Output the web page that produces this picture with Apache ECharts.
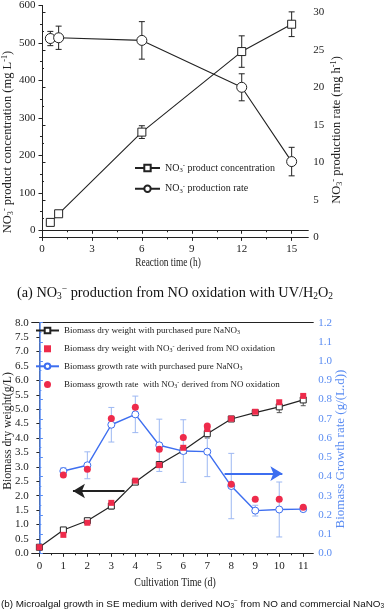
<!DOCTYPE html>
<html><head><meta charset="utf-8">
<script src="https://cdn.jsdelivr.net/npm/echarts@6/dist/echarts.min.js"></script>
<style>html,body{margin:0;padding:0;background:#fff}#c{width:387px;height:610px}</style>
</head><body><div id="c"></div>
<script>
// ---------- Chart (a) data ----------
const timeA = [0.5, 1, 6, 12, 15];
const concA = [21, 44, 262, 477, 550];
const concErrA = [5, 6, 17, 42, 33];
const rateA = [26.5, 26.6, 26.25, 20.0, 10.1];
const rateErrA = [0.95, 1.55, 2.5, 1.8, 1.9];
const xTicksA = [0, 3, 6, 9, 12, 15];
const xMinorA = [1.5, 4.5, 7.5, 10.5, 13.5];
const yTicksA = [0, 100, 200, 300, 400, 500, 600];
const yMinorA = [50, 150, 250, 350, 450, 550];
const y2TicksA = [0, 5, 10, 15, 20, 25, 30];
const y2MinorA = [2.5, 7.5, 12.5, 17.5, 22.5, 27.5];

// ---------- Chart (b) data ----------
const dayB = [0, 1, 2, 3, 4, 5, 6, 7, 8, 9, 10, 11];
const dryPure = [0.21, 0.81, 1.13, 1.64, 2.47, 3.08, 3.57, 4.15, 4.66, 4.88, 5.08, 5.32];
const dryPureErr = [0.03, 0.05, 0.05, 0.1, 0.05, 0.07, 0.04, 0.15, 0.04, 0.05, 0.2, 0.2];
const dryNO = [0.21, 0.64, 1.06, 1.75, 2.52, 3.06, 3.66, 4.31, 4.67, 4.91, 5.24, 5.46];
const rateDays = [1, 2, 3, 4, 5, 6, 7, 8, 9, 10, 11];
const ratePure = [0.428, 0.458, 0.669, 0.723, 0.562, 0.532, 0.529, 0.35, 0.222, 0.228, 0.23];
const ratePureErr = [0.017, 0.07, 0.09, 0.095, 0.136, 0.163, 0.13, 0.17, 0.028, 0.143, 0.01];
const rateNO = [0.407, 0.437, 0.702, 0.76, 0.541, 0.602, 0.662, 0.359, 0.281, 0.281, 0.239];
const xTicksB = [0, 1, 2, 3, 4, 5, 6, 7, 8, 9, 10, 11];
const xMinorB = [0.5, 1.5, 2.5, 3.5, 4.5, 5.5, 6.5, 7.5, 8.5, 9.5, 10.5];

const SERIF = 'Liberation Serif';
const INK = '#222';
const RED = '#ee2b4b';
const BLUE = '#3d6ef0';
const BLUE_LIGHT = '#9db8f2';
const BLUE_AX = '#5a8cf2';
const SQUARE = 'path://M0,0H10V10H0Z';

function richFor(size, fam, color) {
  return {
    sub: {fontSize: size * 0.66, fontFamily: fam, color: color, padding: [size * 0.45, 0, 0, 0]},
    sup: {fontSize: size * 0.66, fontFamily: fam, color: color, padding: [0, 0, size * 0.5, 0]}
  };
}

function errSeries(name, xs, ys, errs, xi, yi, color, capW) {
  return {
    type: 'custom', name: name, xAxisIndex: xi, yAxisIndex: yi, z: 1,
    silent: true, animation: false,
    data: xs.map((x, i) => [x, ys[i] - errs[i], ys[i] + errs[i]]),
    encode: {x: 0, y: [1, 2]},
    renderItem: function (params, api) {
      const lo = api.coord([api.value(0), api.value(1)]);
      const hi = api.coord([api.value(0), api.value(2)]);
      const st = {stroke: color, lineWidth: 1};
      return {type: 'group', children: [
        {type: 'line', shape: {x1: lo[0], y1: lo[1], x2: hi[0], y2: hi[1]}, style: st},
        {type: 'line', shape: {x1: lo[0] - capW, y1: lo[1], x2: lo[0] + capW, y2: lo[1]}, style: st},
        {type: 'line', shape: {x1: hi[0] - capW, y1: hi[1], x2: hi[0] + capW, y2: hi[1]}, style: st}
      ]};
    }
  };
}

function tickAxis(base, vals, len, inside, color) {
  return Object.assign({
    type: 'value', splitLine: {show: false},
    axisLine: {show: false},
    axisTick: {show: true, inside: !!inside, length: len, customValues: vals, lineStyle: {color: color || INK}},
    axisLabel: {show: false}
  }, base);
}

const lblA = {fontFamily: SERIF, fontSize: 11, color: INK};

const xAxes = [
  // chart (a)
  {gridIndex: 0, type: 'value', position: 'bottom', min: -0.15, max: 16,
   splitLine: {show: false},
   axisLine: {lineStyle: {color: INK, width: 1}},
   axisTick: {length: 3.5, customValues: xTicksA, lineStyle: {color: INK}},
   axisLabel: Object.assign({customValues: xTicksA, margin: 5}, lblA)},
  tickAxis({gridIndex: 0, position: 'bottom', min: -0.15, max: 16}, xMinorA, 2, false),
  {gridIndex: 0, type: 'value', position: 'top', min: -0.15, max: 16,
   splitLine: {show: false},
   axisLine: {lineStyle: {color: INK, width: 1}},
   axisTick: {length: 3.5, inside: true, customValues: xTicksA, lineStyle: {color: INK}},
   axisLabel: {show: false}},
  tickAxis({gridIndex: 0, position: 'top', min: -0.15, max: 16}, xMinorA, 2, true),
  // chart (b)
  {gridIndex: 1, type: 'value', position: 'bottom', min: -0.32, max: 11.42,
   splitLine: {show: false},
   axisLine: {lineStyle: {color: INK, width: 1}},
   axisTick: {length: 3.5, customValues: xTicksB, lineStyle: {color: INK}},
   axisLabel: Object.assign({customValues: xTicksB, margin: 7}, lblA)},
  tickAxis({gridIndex: 1, position: 'bottom', min: -0.32, max: 11.42}, xMinorB, 2, false),
  {gridIndex: 1, type: 'value', position: 'top', min: -0.32, max: 11.42,
   splitLine: {show: false},
   axisLine: {lineStyle: {color: INK, width: 1}},
   axisTick: {show: false}, axisLabel: {show: false}}
];

const yAxes = [
  // chart (a)
  {gridIndex: 0, type: 'value', position: 'left', min: -22, max: 600,
   splitLine: {show: false},
   axisLine: {show: true, lineStyle: {color: INK, width: 1}},
   axisTick: {show: true, length: 3.5, customValues: yTicksA, lineStyle: {color: INK}},
   axisLabel: Object.assign({customValues: yTicksA, margin: 4}, lblA)},
  tickAxis({gridIndex: 0, position: 'left', min: -22, max: 600}, yMinorA, 2, false),
  {gridIndex: 0, type: 'value', position: 'right', min: -0.15, max: 30.9,
   splitLine: {show: false},
   axisLine: {show: true, lineStyle: {color: INK, width: 1}},
   axisTick: {show: true, length: 3.5, customValues: y2TicksA, lineStyle: {color: INK}},
   axisLabel: Object.assign({customValues: y2TicksA, margin: 5}, lblA)},
  tickAxis({gridIndex: 0, position: 'right', min: -0.15, max: 30.9}, y2MinorA, 2, false),
  // chart (b)
  {gridIndex: 1, type: 'value', position: 'left', min: 0, max: 8, interval: 0.5,
   splitLine: {show: false},
   axisLine: {show: true, lineStyle: {color: INK, width: 1}},
   axisTick: {show: true, length: 3, lineStyle: {color: INK}},
   axisLabel: Object.assign({margin: 3, formatter: v => v.toFixed(1)}, lblA)},
  {gridIndex: 1, type: 'value', position: 'right', min: 0, max: 1.2, interval: 0.1,
   splitLine: {show: false},
   axisLine: {show: true, lineStyle: {color: BLUE_AX, width: 1.5}},
   axisTick: {show: true, length: 3.5, lineStyle: {color: BLUE_AX}},
   minorTick: {show: true, splitNumber: 2, length: 2, lineStyle: {color: BLUE_AX}},
   axisLabel: {margin: 5, formatter: v => v.toFixed(1), fontFamily: SERIF, fontSize: 11, color: BLUE_AX}}
];

const nameConc = 'NO3- product concentration';
const nameRate = 'NO3- production rate';
const nB1 = 'Biomass dry weight with purchased pure NaNO3';
const nB2 = 'Biomass dry weight with NO3- derived from NO oxidation';
const nB3 = 'Biomass growth rate with purchased pure NaNO3';
const nB4 = 'Biomass growth rate  with NO3- derived from NO oxidation';

const legendText = {};
legendText[nameConc] = 'NO{sub|3}{sup|-} product concentration';
legendText[nameRate] = 'NO{sub|3}{sup|-} production rate';
legendText[nB1] = 'Biomass dry weight with purchased pure NaNO{sub|3}';
legendText[nB2] = 'Biomass dry weight with NO{sub|3}{sup|-} derived from NO oxidation';
legendText[nB3] = 'Biomass growth rate with purchased pure NaNO{sub|3}';
legendText[nB4] = 'Biomass growth rate  with NO{sub|3}{sup|-} derived from NO oxidation';

const series = [
  errSeries('errConc', timeA, concA, concErrA, 0, 0, INK, 3),
  errSeries('errRate', timeA, rateA, rateErrA, 0, 2, INK, 3),
  {name: nameConc, type: 'line', xAxisIndex: 0, yAxisIndex: 0, z: 3,
   data: timeA.map((x, i) => [x, concA[i]]),
   symbol: 'rect', symbolSize: 8, showAllSymbol: true,
   itemStyle: {color: '#fff', borderColor: INK, borderWidth: 1},
   lineStyle: {color: INK, width: 1.1}},
  {name: nameRate, type: 'line', xAxisIndex: 0, yAxisIndex: 2, z: 3,
   data: timeA.map((x, i) => [x, rateA[i]]),
   symbol: 'circle', symbolSize: 10, showAllSymbol: true,
   itemStyle: {color: '#fff', borderColor: INK, borderWidth: 1},
   lineStyle: {color: INK, width: 1.1}},
  // chart (b)
  errSeries('errDry', dayB, dryPure, dryPureErr, 4, 4, '#555', 2.5),
  errSeries('errRateB', rateDays, ratePure, ratePureErr, 4, 5, BLUE_LIGHT, 3),
  {name: nB1, type: 'line', xAxisIndex: 4, yAxisIndex: 4, z: 3,
   data: dayB.map((x, i) => [x, dryPure[i]]),
   symbol: 'rect', symbolSize: 6, showAllSymbol: true,
   itemStyle: {color: '#fff', borderColor: INK, borderWidth: 1},
   lineStyle: {color: INK, width: 1.2},
   markLine: {silent: true, symbol: ['none', 'arrow'], symbolSize: [11, 12],
     label: {show: false}, lineStyle: {color: INK, width: 1.8, type: 'solid'},
     emphasis: {disabled: true}, animation: false,
     data: [[{coord: [3.55, 2.16]}, {coord: [1.4, 2.16]}]]}},
  {name: nB3, type: 'line', xAxisIndex: 4, yAxisIndex: 5, z: 3,
   data: rateDays.map((x, i) => [x, ratePure[i]]),
   symbol: 'circle', symbolSize: 7, showAllSymbol: true,
   itemStyle: {color: '#fff', borderColor: BLUE, borderWidth: 1},
   lineStyle: {color: BLUE, width: 1.4},
   markLine: {silent: true, symbol: ['none', 'arrow'], symbolSize: [11, 12],
     label: {show: false}, lineStyle: {color: BLUE, width: 1.8, type: 'solid'},
     emphasis: {disabled: true}, animation: false,
     data: [[{coord: [7.72, 0.415]}, {coord: [10.13, 0.415]}]]}},
  {name: nB2, type: 'scatter', xAxisIndex: 4, yAxisIndex: 4, z: 4,
   data: dayB.map((x, i) => [x, dryNO[i]]),
   symbol: SQUARE, symbolKeepAspect: true, symbolSize: 6, itemStyle: {color: RED, opacity: 1}},
  {name: nB4, type: 'scatter', xAxisIndex: 4, yAxisIndex: 5, z: 4,
   data: rateDays.map((x, i) => [x, rateNO[i]]),
   symbol: 'circle', symbolSize: 7, itemStyle: {color: RED, opacity: 1}}
];

function gText(x, y, text, size, fam, color, rot, align, sx) {
  return {type: 'text', x: x, y: y, rotation: rot || 0, scaleX: sx || 1, silent: true,
    style: {text: text, fontSize: size, fontFamily: fam, fill: color,
      align: align || 'center', verticalAlign: 'middle',
      textAlign: align || 'center', textVerticalAlign: 'middle',
      rich: richFor(size, fam, color)}};
}

const graphics = [
  gText(8, 142, 'NO{sub|3}{sup|-} product concentration (mg L{sup|-1})', 12.5, SERIF, INK, Math.PI / 2),
  gText(337, 130, 'NO{sub|3}{sup|-} production rate (mg h{sup|-1})', 12.5, SERIF, INK, Math.PI / 2),
  gText(168, 263, 'Reaction time (h)', 12, SERIF, INK, 0, 'center', 0.78),
  gText(17, 293, '(a) NO{sub|3}{sup|\u2212} production from NO oxidation with UV/H{sub|2}O{sub|2}', 14.3, SERIF, '#111', 0, 'left'),
  gText(7.5, 431, 'Biomass dry weight(g/L)', 13, SERIF, INK, Math.PI / 2, 'center', 0.9),
  gText(341, 449, 'Biomass Growth rate (g/(L.d))', 13, SERIF, BLUE_AX, Math.PI / 2),
  gText(175, 583, 'Cultivation Time (d)', 13, SERIF, INK, 0, 'center', 0.76),
  gText(1, 604, '(b) Microalgal growth in SE medium with derived NO{sub|3}{sup|\u2212} from NO and commercial NaNO{sub|3}', 9.9, 'Liberation Sans', '#111', 0, 'left')
];

const chart = echarts.init(document.getElementById('c'), null, {renderer: 'canvas'});
chart.setOption({
  animation: false,
  backgroundColor: '#fff',
  textStyle: {fontFamily: SERIF},
  grid: [
    {left: 39.5, top: 5.5, width: 268.8, height: 233},
    {left: 31.7, top: 322.7, width: 281.6, height: 230.6}
  ],
  legend: [
    {orient: 'vertical', left: 134, top: 162, itemWidth: 25, itemHeight: 8, itemGap: 9,
     data: [nameConc, nameRate], selectedMode: false, padding: 0,
     formatter: n => legendText[n],
     textStyle: {fontFamily: SERIF, fontSize: 10, color: INK, rich: richFor(10, SERIF, INK)}},
    {orient: 'vertical', left: 35, top: 326, itemWidth: 23, itemHeight: 7, itemGap: 8,
     data: [nB1, nB2, nB3, nB4], selectedMode: false, padding: 0, symbolKeepAspect: true,
     formatter: n => legendText[n],
     textStyle: {fontFamily: SERIF, fontSize: 9, color: INK, rich: richFor(9, SERIF, INK)}}
  ],
  xAxis: xAxes,
  yAxis: yAxes,
  series: series,
  graphic: graphics
});
</script>
</body></html>
